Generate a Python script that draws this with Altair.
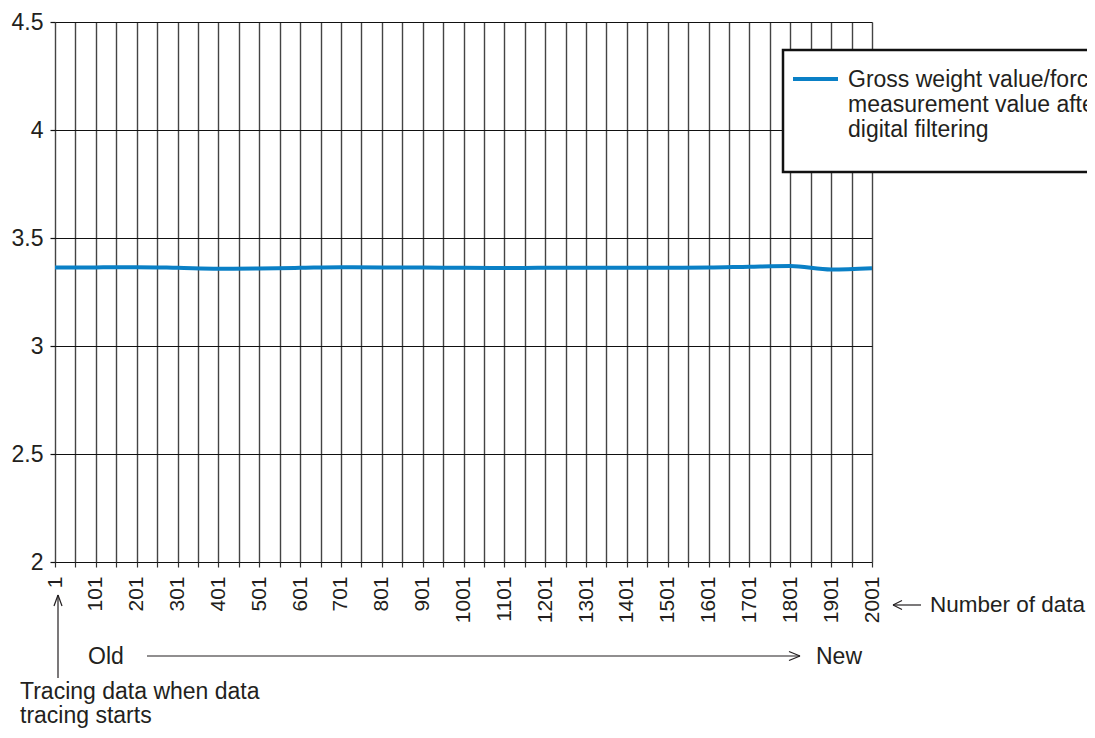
import altair as alt
import pandas as pd

# ---- data ----
sample_no = [1, 101, 201, 301, 401, 501, 601, 701, 801, 901, 1001,
             1101, 1201, 1301, 1401, 1501, 1601, 1701, 1801, 1901, 2001]
gross_value = [3.364, 3.364, 3.365, 3.362, 3.358, 3.359, 3.362, 3.365, 3.364, 3.363, 3.362,
               3.361, 3.362, 3.362, 3.362, 3.362, 3.363, 3.367, 3.370, 3.354, 3.360]
y_ticks = [2, 2.5, 3, 3.5, 4, 4.5]
x_grid = list(range(1, 2002, 50))
x_labels = [1, 101, 201, 301, 401, 501, 601, 701, 801, 901, 1001,
            1101, 1201, 1301, 1401, 1501, 1601, 1701, 1801, 1901, 2001]

legend_lines = ["Gross weight value/force", "measurement value after", "digital filtering"]
note_lines = ["Tracing data when data", "tracing starts"]
old_label = "Old"
new_label = "New"
count_label = "Number of data"

FONT = "Liberation Sans"
BLUE = "#0a80c6"
INK = "#231f20"
W, H = 817, 540

df = pd.DataFrame({"n": sample_no, "v": gross_value})
one = pd.DataFrame({"k": [0]})

label_expr = "indexof([" + ",".join(str(v) for v in x_labels) + "], datum.value) >= 0 ? datum.label : ''"

line = alt.Chart(df).mark_line(color=BLUE, strokeWidth=4, interpolate="monotone").encode(
    x=alt.X("n:Q", title=None,
            scale=alt.Scale(domain=[1, 2001], nice=False, zero=False),
            axis=alt.Axis(values=x_grid, format="d", labelExpr=label_expr, labelAngle=-90,
                          labelFontSize=21, labelFont=FONT, labelColor=INK,
                          labelPadding=9, labelOverlap=False, labelFlush=False,
                          tickSize=5, tickColor="#333", tickWidth=1.2,
                          domain=False, grid=True, gridColor="#444", gridWidth=1.4,
                          gridOpacity=1)),
    y=alt.Y("v:Q", title=None,
            scale=alt.Scale(domain=[2, 4.5], nice=False, zero=False),
            axis=alt.Axis(values=y_ticks, format="~g",
                          labelFontSize=23, labelFont=FONT, labelColor=INK,
                          labelPadding=7, tickSize=5, tickColor="#111", tickWidth=1.2,
                          domain=False, grid=True, gridColor="#111", gridWidth=1.2,
                          gridOpacity=1)),
)


def seg(x1, y1, x2, y2, width=1.2, color=INK):
    return alt.Chart(one).mark_rule(color=color, strokeWidth=width).encode(
        x=alt.value(x1), x2=alt.value(x2), y=alt.value(y1), y2=alt.value(y2))


def txt(text, x, y, baseline="middle", size=23, line_h=25):
    return alt.Chart(one).mark_text(
        text=text, align="left", baseline=baseline, fontSize=size, font=FONT,
        color=INK, lineHeight=line_h).encode(x=alt.value(x), y=alt.value(y))


# legend box (opaque, cut by the right edge like the reference)
legend_box = alt.Chart(one).mark_rect(fill="white", stroke="#111", strokeWidth=2.5).encode(
    x=alt.value(728), x2=alt.value(1100), y=alt.value(28), y2=alt.value(150))
legend_sample = seg(738, 57, 783, 57, width=4, color=BLUE)
legend_text = txt(legend_lines, 793, 65, baseline="alphabetic")

# annotations below the axis
up_arrow = [seg(3, 573, 3, 656), seg(3, 573, -1, 584), seg(3, 573, 7, 584)]
time_arrow = [seg(92, 634, 745, 634), seg(745, 634, 734, 629.5), seg(745, 634, 734, 638.5)]
count_arrow = [seg(838, 583, 866, 583), seg(838, 583, 847, 578.5), seg(838, 583, 847, 587.5)]

texts = [
    txt(old_label, 33, 635),
    txt(new_label, 761, 635),
    txt(count_label, 875, 583, size=22.5),
    txt(note_lines, -35, 677, baseline="alphabetic", line_h=24),
]

chart = alt.layer(
    line, legend_box, legend_sample, legend_text,
    *up_arrow, *time_arrow, *count_arrow, *texts
).properties(
    width=W, height=H,
    autosize=alt.AutoSizeParams(type="none"),
    padding={"left": 47, "top": 14, "right": 215, "bottom": 168},
).configure_view(stroke=None).configure(background="white")

chart.save("out.html", embed_options={"renderer": "svg", "actions": False})
